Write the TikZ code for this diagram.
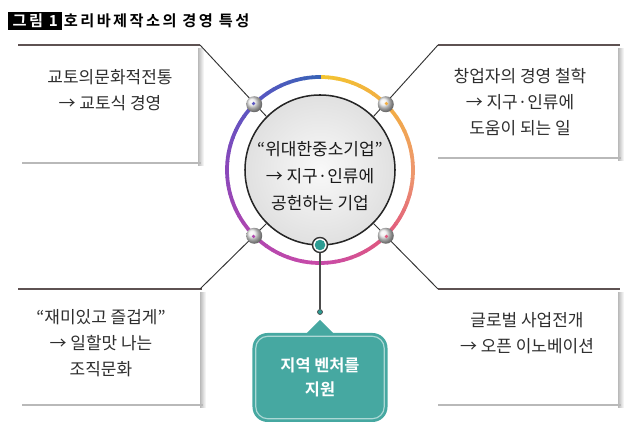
\documentclass[tikz,border=0pt]{standalone}
\usepackage{fontspec}
\setmainfont{Noto Sans CJK KR}[BoldFont={Noto Sans CJK KR Bold}]
\newfontfamily\titlefont{Noto Sans CJK KR Bold}[LetterSpace=16]
\usepackage{xcolor}
\usepackage{tikz}
\usetikzlibrary{shapes, arrows, positioning, calc}

% ring colours, clockwise from the top
\definecolor{ringA}{HTML}{F3C431}
\definecolor{ringB}{HTML}{F2AE42}
\definecolor{ringC}{HTML}{EE986C}
\definecolor{ringD}{HTML}{E0587E}
\definecolor{ringE}{HTML}{C84AA8}
\definecolor{ringF}{HTML}{B046B0}
\definecolor{ringG}{HTML}{8A48BA}
\definecolor{ringH}{HTML}{5A56C2}
\definecolor{ringI}{HTML}{3A62B7}
\definecolor{callteal}{HTML}{46A8A1}
\definecolor{tealdark}{HTML}{2C9C93}
\definecolor{topline}{HTML}{5E5252}
\definecolor{textgray}{HTML}{2E2E2E}

\begin{document}
\begin{tikzpicture}[x=0.03cm, y=0.03cm,
  boxtext/.style={align=center, text=textgray, font=\fontsize{14.5}{22}\selectfont},
  boxtop/.style={draw=topline, line width=1.7pt},
  boxbottom/.style={draw=gray!55, line width=1.2pt},
  link/.style={draw=black!80, line width=0.8pt},
  ringline/.style={line width=3.2pt},
  stem/.style={draw=black!70, line width=1pt}]
  \useasboundingbox (0,0) rectangle (640,432);

  % Title
  \node[anchor=west, fill=black, text=white, font=\titlefont\fontsize{13}{15}\selectfont,
        minimum width=1.62cm, minimum height=0.54cm, inner sep=0pt] (fignum) at (8,411) {그림 1};
  \node[right=1pt of fignum, font=\titlefont\fontsize{13}{15}\selectfont, inner sep=0pt] (title) {호리바제작소의 경영 특성};

  % Boxes
  \foreach \xl/\xr/\yt/\yb/\ta/\tb in {22/198/387/269/18/200, 438/618/387/274/438/620,
                                       22/200/143/27/18/202, 438/618/143/27/438/620} {
    \fill[white] (\xl,\yb) rectangle (\xr,\yt);
    \shade[left color=gray!55, right color=white] (\xr,\yb-3) rectangle (\xr+6,\yt-4);
    \draw[boxbottom] (\xl,\yb) -- (\xr+3,\yb);
    \draw[boxtop] (\ta,\yt) -- (\tb,\yt);
  }

  % Box corners
  \coordinate (tlc) at (200,387);
  \coordinate (trc) at (438,387);
  \coordinate (blc) at (200,143);
  \coordinate (brc) at (438,143);

  % Box texts
  \node[boxtext] (kyoto) at (110,342) {교토의문화적전통\\→ 교토식 경영};
  \node[boxtext] (founder) at (520,330) {창업자의 경영 철학\\→ 지구·인류에\\도움이 되는 일};
  \node[boxtext] (fun) at (101,89) {“재미있고 즐겁게”\\→ 일할맛 나는\\조직문화};
  \node[boxtext] (global) at (527,99) {글로벌 사업전개\\→ 오픈 이노베이션};

  % Core circle
  \node[circle, draw=black!85, line width=1.3pt, minimum size=4.5cm, inner sep=0pt,
        inner color=gray!5, outer color=gray!24] (core) at (320,262) {};
  \node[align=center, text=black!90, font=\fontsize{14.5}{23}\selectfont] (goal) at (320,256)
    {“위대한중소기업”\\→ 지구·인류에\\공헌하는 기업};

  % Links from boxes
  \draw[link] (tlc) -- (core.135);
  \draw[link] (trc) -- (core.45);
  \draw[link] (blc) -- (core.225);
  \draw[link] (brc) -- (core.315);

  % Colour ring
  \foreach \sa/\ca/\cb in {90/ringA/ringB, 45/ringB/ringC, 0/ringC/ringD, -45/ringD/ringE,
                           -90/ringE/ringF, -135/ringF/ringG, -180/ringG/ringH, -225/ringH/ringI} {
    \foreach \k in {0,...,8} {
      \pgfmathsetmacro\mix{100-\k*12.5}
      \pgfmathsetmacro\ang{\sa-\k*5}
      \draw[ringline, draw=\ca!\mix!\cb] ($(core.center)+(\ang:93)$)
        arc[start angle=\ang, end angle=\ang-5.6, radius=93];
    }
  }

  % Knobs
  \foreach \ang/\kc in {45/ringB, 135/ringH, 225/ringF, 315/ringD} {
    \shade[ball color=gray!15] ($(core.center)+(\ang:93)$) circle (8);
    \fill[\kc] ($(core.center)+(\ang:94)$) circle (1.8);
  }

  % Teal dot and stem
  \node[circle, draw=black!80, line width=1.2pt, fill=white, minimum size=0.45cm, inner sep=0pt] (hubdot) at (320,187) {};
  \fill[tealdark] (hubdot) circle (5.3);
  \node[circle, draw=black!70, fill=tealdark, line width=0.6pt, minimum size=0.15cm, inner sep=0pt] (stemdot) at (320,120) {};
  \draw[stem] (hubdot) -- (stemdot);

  % Callout
  \node[fill=callteal, rounded corners=0.45cm, minimum width=4.05cm, minimum height=2.67cm,
        align=center, text=white, font=\bfseries\fontsize{14}{21}\selectfont] (venture) at (320,54.5)
    {지역 벤처를\\지원};
  \coordinate (tip) at (320,112);
  \fill[callteal] ($(venture.north)+(-14,-1)$) -- (tip) -- ($(venture.north)+(14,-1)$) -- cycle;
  \draw[white!55!callteal, line width=1pt, rounded corners=0.36cm]
    ($(venture.south west)+(3.5,3.5)$) rectangle ($(venture.north east)+(-3.5,-3.5)$);
\end{tikzpicture}
\end{document}
